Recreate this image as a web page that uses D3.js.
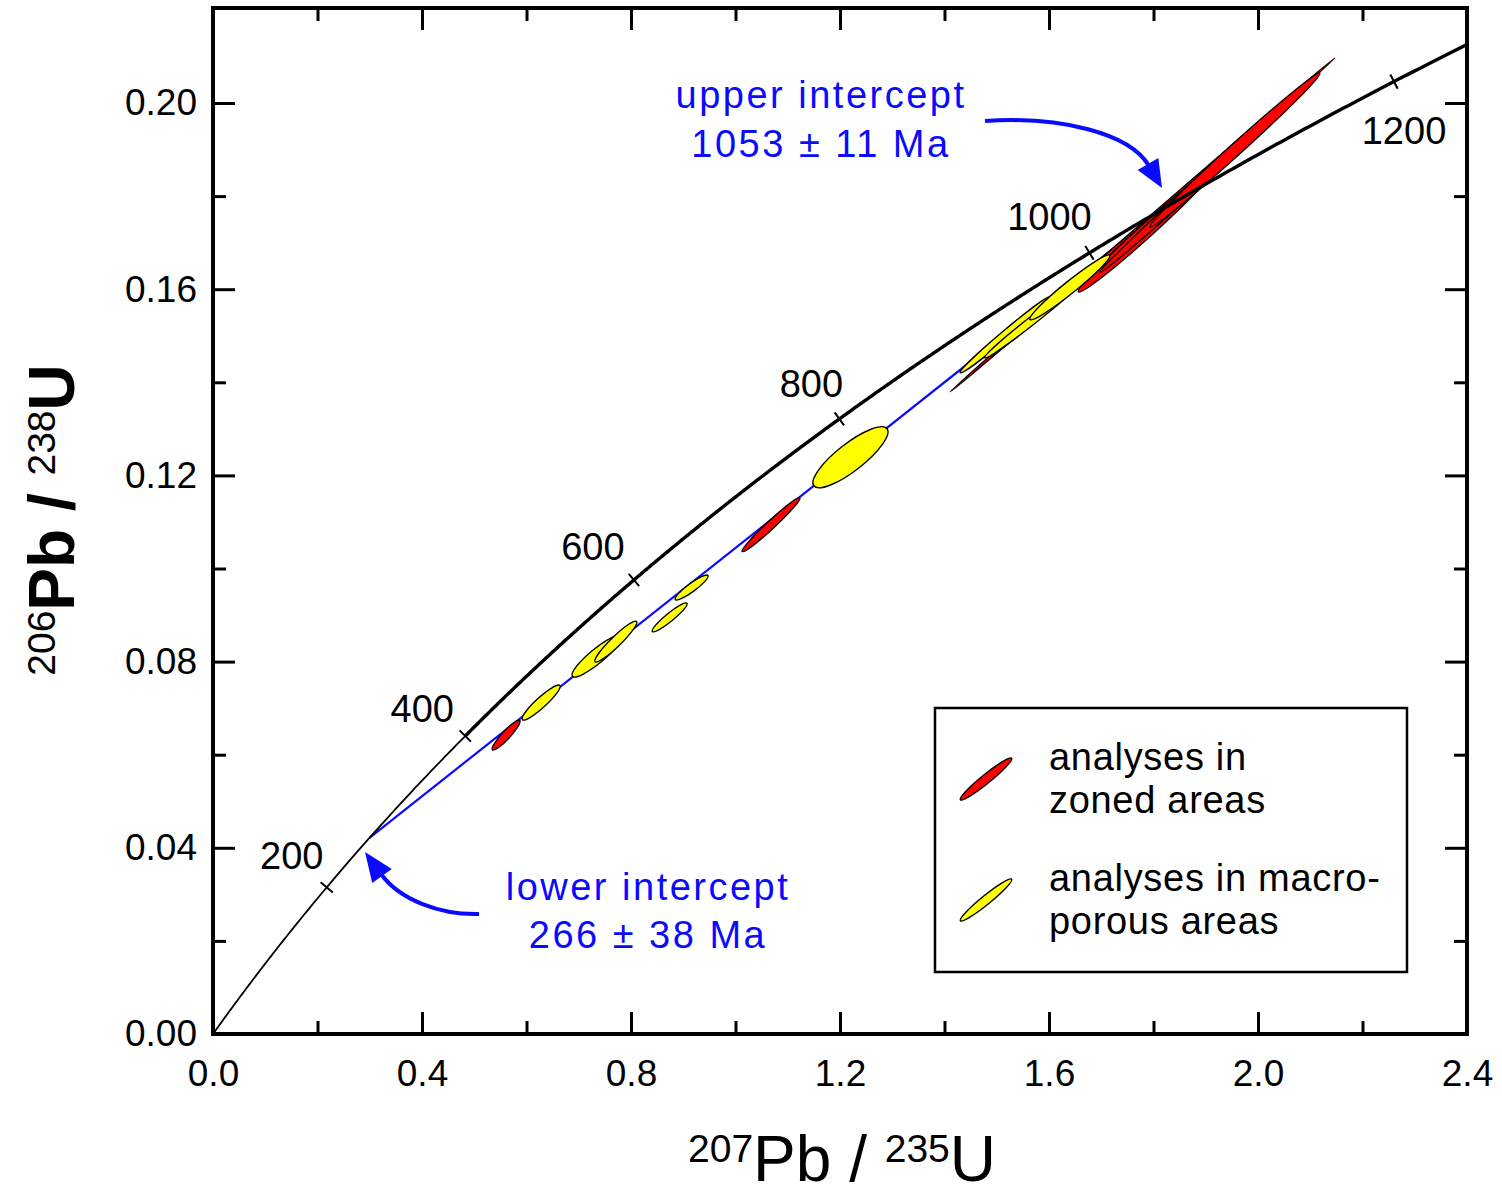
<!DOCTYPE html>
<html><head><meta charset="utf-8">
<script src="https://cdn.jsdelivr.net/npm/d3@7"></script>
<style>
body{margin:0;background:#fff}
text{font-family:"Liberation Sans",Arial,Helvetica,sans-serif}
</style>
</head><body>
<svg id="c" width="1502" height="1194"></svg>
<script>
// ---------- data ----------
const xTicks = [0, 0.4, 0.8, 1.2, 1.6, 2.0, 2.4];
const xMinorTicks = [0.2, 0.6, 1.0, 1.4, 1.8, 2.2];
const yTicks = [0, 0.04, 0.08, 0.12, 0.16, 0.20];
const yMinorTicks = [0.02, 0.06, 0.10, 0.14, 0.18];
const concordiaAges = [200, 400, 600, 800, 1000, 1200];   // Ma
const interceptAges = [266, 1053];                        // Ma
const interceptErrors = [38, 11];
const LAMBDA235 = 9.8485e-4;   // per Ma
const LAMBDA238 = 1.55125e-4;  // per Ma

// analyses in zoned areas (red): 207Pb/235U, 206Pb/238U, errors, error correlation
const zonedX   = [1.779, 0.561, 1.068, 1.787, 1.889, 1.956];
const zonedY   = [0.1738, 0.0642, 0.1094, 0.1727, 0.1831, 0.1899];
const zonedSX  = [0.3684, 0.0268, 0.0555, 0.1311, 0.1914, 0.1627];
const zonedSY  = [0.03588, 0.00322, 0.00580, 0.01332, 0.01944, 0.01654];
const zonedRho = [0.99987, 0.920, 0.979, 0.9883, 0.99775, 0.99446];

// analyses in macro-porous areas (yellow)
const porousX   = [0.628, 0.735, 0.771, 0.874, 0.916, 1.220, 1.516, 1.568, 1.640];
const porousY   = [0.0712, 0.0812, 0.0843, 0.0895, 0.0959, 0.1239, 0.1502, 0.1533, 0.1604];
const porousSX  = [0.0364, 0.0478, 0.0402, 0.0335, 0.0316, 0.0718, 0.0861, 0.0909, 0.0766];
const porousSY  = [0.00376, 0.00451, 0.00440, 0.00311, 0.00269, 0.00655, 0.00816, 0.00806, 0.00698];
const porousRho = [0.921, 0.900, 0.940, 0.933, 0.916, 0.835, 0.9905, 0.9907, 0.9713];

const legendLabels = [["analyses in", "zoned areas"], ["analyses in macro-", "porous areas"]];

// ---------- layout ----------
const L = 213, R = 1467, T = 8, B = 1034;
const BLUE = "#0a0aff", RED = "#ff0000", YELLOW = "#ffff00";
const svg = d3.select("#c");

const x = d3.scaleLinear().domain([0, 2.4]).range([L, R]);
const y = d3.scaleLinear().domain([0, 0.22041]).range([B, T]);

svg.append("defs").append("clipPath").attr("id", "plot")
  .append("rect").attr("x", L).attr("y", T).attr("width", R - L).attr("height", B - T);

// axes
function styleAxis(g, fs) {
  g.select(".domain").remove();
  g.selectAll(".tick line").attr("stroke", "#000").attr("stroke-width", 3);
  g.selectAll(".tick text").attr("fill", "#000").style("font-size", fs + "px")
    .style("font-family", '"Liberation Sans",Arial,sans-serif');
}
svg.append("g").attr("transform", `translate(0,${B})`)
  .call(d3.axisBottom(x).tickValues(xTicks).tickSize(-22).tickPadding(26).tickFormat(d3.format(".1f")))
  .call(g => styleAxis(g, 37));
svg.append("g").attr("transform", `translate(0,${B})`)
  .call(d3.axisBottom(x).tickValues(xMinorTicks).tickSize(-13).tickFormat(""))
  .call(g => styleAxis(g, 37));
svg.append("g").attr("transform", `translate(0,${T})`)
  .call(d3.axisTop(x).tickValues(xTicks).tickSize(-22).tickFormat(""))
  .call(g => styleAxis(g, 37));
svg.append("g").attr("transform", `translate(0,${T})`)
  .call(d3.axisTop(x).tickValues(xMinorTicks).tickSize(-13).tickFormat(""))
  .call(g => styleAxis(g, 37));
svg.append("g").attr("transform", `translate(${L},0)`)
  .call(d3.axisLeft(y).tickValues(yTicks).tickSize(-22).tickPadding(16).tickFormat(d3.format(".2f")))
  .call(g => styleAxis(g, 37));
svg.append("g").attr("transform", `translate(${L},0)`)
  .call(d3.axisLeft(y).tickValues(yMinorTicks).tickSize(-13).tickFormat(""))
  .call(g => styleAxis(g, 37));
svg.append("g").attr("transform", `translate(${R},0)`)
  .call(d3.axisRight(y).tickValues(yTicks).tickSize(-22).tickFormat(""))
  .call(g => styleAxis(g, 37));
svg.append("g").attr("transform", `translate(${R},0)`)
  .call(d3.axisRight(y).tickValues(yMinorTicks).tickSize(-13).tickFormat(""))
  .call(g => styleAxis(g, 37));

// concordia helpers
const cx = t => Math.exp(LAMBDA235 * t) - 1;
const cy = t => Math.exp(LAMBDA238 * t) - 1;
const tMax = Math.log(1 + 2.45) / LAMBDA235;
const line = d3.line().x(t => x(cx(t))).y(t => y(cy(t)));
const plot = svg.append("g").attr("clip-path", "url(#plot)");

// discordia (under the ellipses)
plot.append("line")
  .attr("x1", x(cx(interceptAges[0]))).attr("y1", y(cy(interceptAges[0])))
  .attr("x2", x(cx(interceptAges[1]))).attr("y2", y(cy(interceptAges[1])))
  .attr("stroke", BLUE).attr("stroke-width", 2.2);

// error ellipses
function drawEllipse(g, X, Y, SX, SY, RHO, fill) {
  const A = SX * (x(1) - x(0)), Bp = SY * (y(0) - y(1));
  const C = -RHO * A * Bp;
  const m = (A * A + Bp * Bp) / 2, d = Math.sqrt(((A * A - Bp * Bp) / 2) ** 2 + C * C);
  const r1 = Math.sqrt(m + d), r2 = Math.sqrt(Math.max(m - d, 0.5));
  const ang = 0.5 * Math.atan2(2 * C, A * A - Bp * Bp) * 180 / Math.PI;
  g.append("ellipse").attr("cx", 0).attr("cy", 0).attr("rx", r1).attr("ry", r2)
    .attr("transform", `translate(${x(X)},${y(Y)}) rotate(${ang})`)
    .attr("fill", fill).attr("stroke", "#000").attr("stroke-width", 1.4);
}
const eg = plot.append("g");
zonedX.forEach((v, i) => drawEllipse(eg, v, zonedY[i], zonedSX[i], zonedSY[i], zonedRho[i], RED));
porousX.forEach((v, i) => drawEllipse(eg, v, porousY[i], porousSX[i], porousSY[i], porousRho[i], YELLOW));

// concordia curve (on top)
plot.append("path").attr("d", line(d3.range(0, 405, 2)))
  .attr("fill", "none").attr("stroke", "#000").attr("stroke-width", 1.8);
plot.append("path").attr("d", line(d3.range(400, tMax, 2).concat([tMax])))
  .attr("fill", "none").attr("stroke", "#000").attr("stroke-width", 3.4);

// concordia age ticks
const labelOffset = {200: [-35, -18], 400: [-43, -14], 600: [-41, -20], 800: [-28, -22], 1000: [-40, -23], 1200: [10, 62]};
concordiaAges.forEach(t => {
  const px = x(cx(t)), py = y(cy(t));
  const dx = x(cx(t + 1)) - px, dy = y(cy(t + 1)) - py;
  const n = Math.hypot(dx, dy), ux = -dy / n, uy = dx / n;
  svg.append("line").attr("x1", px - ux * 8).attr("y1", py - uy * 8)
    .attr("x2", px + ux * 8).attr("y2", py + uy * 8)
    .attr("stroke", "#000").attr("stroke-width", 2);
  svg.append("text").attr("x", px + labelOffset[t][0]).attr("y", py + labelOffset[t][1])
    .attr("text-anchor", "middle").style("font-size", "38px").text(t);
});

// frame
svg.append("rect").attr("x", L).attr("y", T).attr("width", R - L).attr("height", B - T)
  .attr("fill", "none").attr("stroke", "#000").attr("stroke-width", 4);

// annotations
function arrow(d, tip, base) {
  svg.append("path").attr("d", d).attr("fill", "none").attr("stroke", BLUE).attr("stroke-width", 4);
  const vx = tip[0] - base[0], vy = tip[1] - base[1], n = Math.hypot(vx, vy);
  const px = -vy / n * 12, py = vx / n * 12;
  svg.append("path")
    .attr("d", `M${tip[0]},${tip[1]}L${base[0] + px},${base[1] + py}L${base[0] - px},${base[1] - py}Z`)
    .attr("fill", BLUE);
}
arrow("M985,121 C1060,116 1130,133 1149,166", [1162, 188], [1148, 164]);
arrow("M479,914 C440,915 400,900 381,874", [365, 852], [382, 876]);

function blueText(cxp, by, str) {
  svg.append("text").attr("x", cxp).attr("y", by).attr("text-anchor", "middle")
    .attr("fill", BLUE).style("font-size", "38px").style("letter-spacing", "2.5px").text(str);
}
blueText(821, 108, "upper intercept");
blueText(821, 157, `${interceptAges[1]} ± ${interceptErrors[1]} Ma`);
blueText(648, 900, "lower intercept");
blueText(648, 948, `${interceptAges[0]} ± ${interceptErrors[0]} Ma`);

// legend
svg.append("rect").attr("x", 935).attr("y", 708).attr("width", 472).attr("height", 264)
  .attr("fill", "#fff").attr("stroke", "#000").attr("stroke-width", 2.5);
[[RED, 779], [YELLOW, 900]].forEach(([c, ly]) => {
  svg.append("ellipse").attr("rx", 33).attr("ry", 4.5)
    .attr("transform", `translate(986,${ly}) rotate(-39)`)
    .attr("fill", c).attr("stroke", "#000").attr("stroke-width", 1.4);
});
legendLabels.forEach((lines, i) => {
  lines.forEach((s, j) => {
    svg.append("text").attr("x", 1049).attr("y", [770, 891][i] + j * 43)
      .style("font-size", "38px").style("letter-spacing", "0.7px").text(s);
  });
});

// axis titles
function title(g, parts, bold) {
  const t = g.append("text").attr("text-anchor", "middle");
  parts.forEach(([s, sup], k) => {
    t.append("tspan").text(s)
      .attr("dy", k === 0 ? 0 : (sup ? -19 : 19))
      .style("font-size", sup ? "39px" : "64px")
      .style("font-weight", !sup && bold ? "bold" : "normal");
  });
  return t;
}
title(svg.append("g").attr("transform", "translate(842,1162)"),
  [["207", true], ["Pb / ", false], ["235", true], ["U", false]], false);
title(svg.append("g").attr("transform", "translate(55,520) rotate(-90)"),
  [["206", true], ["Pb / ", false], ["238", true], ["U", false]], true);
</script>
</body></html>
